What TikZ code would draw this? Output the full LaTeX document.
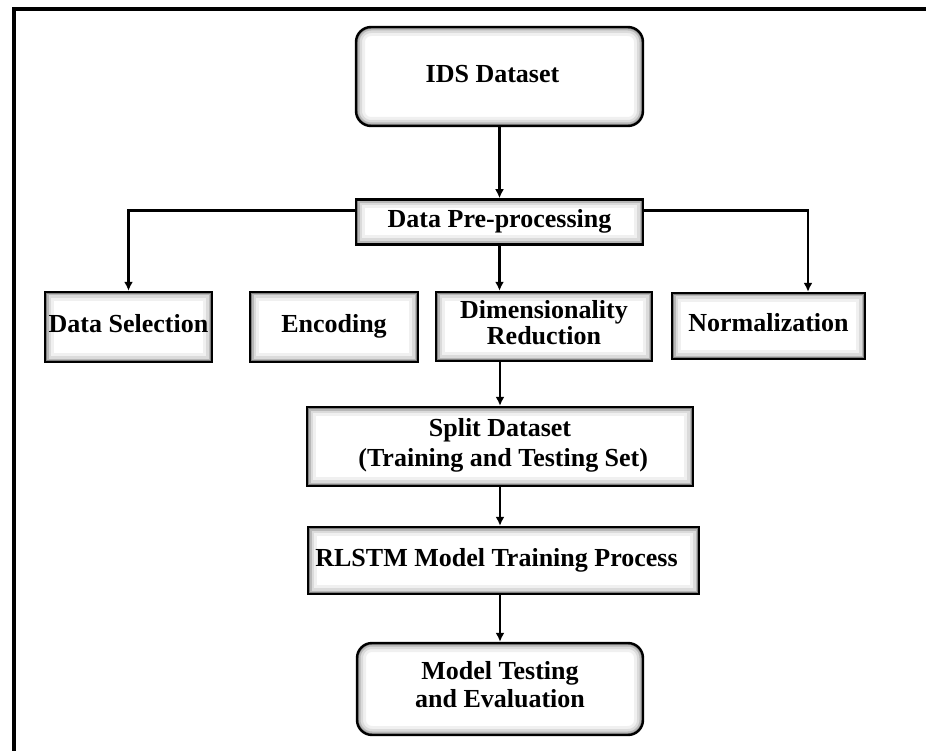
\documentclass[tikz,border=0pt]{standalone}
\usepackage{fontspec}
\setmainfont{Liberation Serif}
\usepackage{tikz}
\usetikzlibrary{arrows.meta,positioning}
\tikzset{
  glow/.style={path picture={
      \foreach \w/\c in {18/6,12/14,7/28,3.5/50}{
        \draw[line width=\w pt,black!\c,rounded corners=#1]
          (path picture bounding box.south west) rectangle (path picture bounding box.north east);}}},
  stage/.style={draw=black,line width=2.4pt,fill=white,align=center,inner sep=1pt,
    font=\fontsize{26}{28}\selectfont\bfseries,glow=0pt,
    execute at begin node=\strut,execute at end node=\strut},
  roundstage/.style={stage,rounded corners=15pt,glow=15pt},
  arrow/.style={-{Latex[length=9pt,width=9pt]},line width=2.6pt},
  frameline/.style={line width=4pt}
}
\begin{document}
\begin{tikzpicture}[x=1pt,y=-1pt]
  \useasboundingbox (0,0) rectangle (926,751);
  \draw[frameline] (14,751) -- (14,9.5) -- (926,9.5);

  \node[roundstage,minimum width=287pt,minimum height=99pt] (ids) at (499.5,76.5) {IDS Dataset\hspace*{14pt}};
  \node[stage,minimum width=287pt,minimum height=45pt,below=71pt of ids] (pre) {Data Pre-processing};

  % the four pre-processing steps
  \node[stage,minimum width=167pt,minimum height=70pt] (sel) at (128.5,327) {Data Selection};
  \node[stage,minimum width=168pt,minimum height=70pt] (enc) at (334,327) {Encoding};
  \node[stage,minimum width=216pt,minimum height=69pt,font=\fontsize{26}{26}\selectfont\bfseries]
    (dim) at (544,326.5) {Dimensionality\\Reduction};
  \node[stage,minimum width=193pt,minimum height=66pt] (norm) at (768.5,326) {Normalization};

  \node[stage,minimum width=386pt,minimum height=79pt,font=\fontsize{26}{30}\selectfont\bfseries]
    (split) at (500,446.5) {Split Dataset\\\ (Training and Testing Set)};
  \node[stage,minimum width=391pt,minimum height=67pt] (rlstm) at (503.5,560.5) {RLSTM Model Training Process\hspace*{14pt}};
  \node[roundstage,minimum width=286pt,minimum height=92pt] (test) at (500,689) {Model Testing\\and Evaluation};

  \draw[arrow] (ids) -- (pre);
  \draw[arrow] ([yshift=11.5pt]pre.west) -| (sel.north);
  \draw[arrow] ([yshift=11.5pt]pre.east) -| ([xshift=39.5pt]norm.north);
  \draw[arrow] (pre.south) -- (pre.south |- dim.north);
  \draw[arrow] (split.north |- dim.south) -- (split.north);
  \draw[arrow] (split.south) -- (split.south |- rlstm.north);
  \draw[arrow] (test.north |- rlstm.south) -- (test.north);
\end{tikzpicture}
\end{document}
